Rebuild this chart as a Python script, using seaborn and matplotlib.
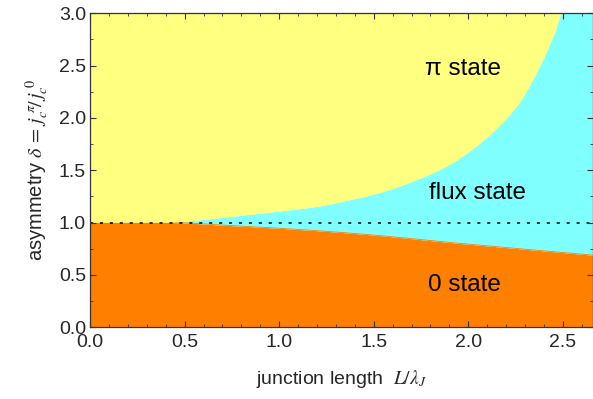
import numpy as np
import matplotlib
matplotlib.use("Agg")
import matplotlib.pyplot as plt
from matplotlib.ticker import MultipleLocator, FormatStrFormatter
import seaborn as sns
import pandas as pd

# boundary data
x_lower = [0.0, 0.42, 0.7, 1.0, 1.2, 1.5, 1.9, 2.3, 2.66]
y_lower = [1.0, 1.0, 0.975, 0.945, 0.922, 0.88, 0.81, 0.745, 0.688]

x_upper = [0.0, 0.39, 0.6, 0.8, 1.0, 1.2, 1.36, 1.536, 1.712, 1.889,
           2.013, 2.119, 2.207, 2.278, 2.348, 2.401, 2.454, 2.498, 2.66]
y_upper = [1.0, 1.0, 1.03, 1.07, 1.11, 1.155, 1.213, 1.29, 1.40, 1.545,
           1.691, 1.85, 2.009, 2.169, 2.391, 2.582, 2.806, 3.0, 3.0]

state_labels = ["π state", "flux state", "0 state"]
label_x = [1.97, 2.05, 1.98]
label_y = [2.47, 1.28, 0.40]


def pchip(x, y, xs):
    """Monotone cubic (Fritsch-Carlson) drawing of the read boundary points."""
    x = np.asarray(x, float)
    y = np.asarray(y, float)
    h = np.diff(x)
    d = np.diff(y) / h
    m = np.zeros_like(y)
    for k in range(1, len(x) - 1):
        if d[k - 1] * d[k] <= 0:
            m[k] = 0.0
        else:
            w1 = 2 * h[k] + h[k - 1]
            w2 = h[k] + 2 * h[k - 1]
            m[k] = (w1 + w2) / (w1 / d[k - 1] + w2 / d[k])
    m[0] = d[0]
    m[-1] = d[-1]
    idx = np.clip(np.searchsorted(x, xs) - 1, 0, len(x) - 2)
    t = (xs - x[idx]) / h[idx]
    h00 = 2 * t**3 - 3 * t**2 + 1
    h10 = t**3 - 2 * t**2 + t
    h01 = -2 * t**3 + 3 * t**2
    h11 = t**3 - t**2
    return (h00 * y[idx] + h10 * h[idx] * m[idx]
            + h01 * y[idx + 1] + h11 * h[idx] * m[idx + 1])


sns.set_theme(style="ticks")
plt.rcParams['font.family'] = ['Liberation Sans', 'DejaVu Sans']
plt.rcParams['mathtext.fontset'] = 'stix'

fig = plt.figure(figsize=(5.93, 3.99), dpi=100)
ax = fig.add_axes([0.152, 0.18, 0.848, 0.787])

xs = np.linspace(0, 2.66, 1000)
lo = pchip(x_lower, y_lower, xs)
up = np.minimum(pchip(x_upper, y_upper, xs), 3.0)
up = np.maximum(up, lo)

ax.fill_between(xs, 0, lo, color="#FF8000", lw=0)
ax.fill_between(xs, lo, up, color="#80FFFF", lw=0)
ax.fill_between(xs, up, 3.0, color="#FFFF80", lw=0)

df_lo = pd.DataFrame({"x": xs, "y": lo})
df_up = pd.DataFrame({"x": xs, "y": up})
sns.lineplot(data=df_lo, x="x", y="y", ax=ax, color="#FF8000", lw=0.6)
sns.lineplot(data=df_up, x="x", y="y", ax=ax, color="#FFFF80", lw=0.6)

ax.axhline(1.0, color="black", ls=(0, (2, 4.5)), lw=1.1)

for t, lx, ly in zip(state_labels, label_x, label_y):
    ax.text(lx, ly, t, ha="center", va="center", fontsize=17.5, color="black")

ax.set_axisbelow(False)
ax.set_xlim(0, 2.66)
ax.set_ylim(0, 3.0)
ax.xaxis.set_major_locator(MultipleLocator(0.5))
ax.xaxis.set_minor_locator(MultipleLocator(0.1))
ax.yaxis.set_major_locator(MultipleLocator(0.5))
ax.yaxis.set_minor_locator(MultipleLocator(0.25))
ax.xaxis.set_major_formatter(FormatStrFormatter('%.1f'))
ax.yaxis.set_major_formatter(FormatStrFormatter('%.1f'))
ax.tick_params(which="both", direction="in", top=True, right=True,
               labelsize=14, color="#333333")
ax.tick_params(axis="x", pad=5)
ax.tick_params(axis="y", pad=3)
ax.tick_params(which="major", length=4, width=0.8)
ax.tick_params(which="minor", length=2.5, width=0.6)
for s in ax.spines.values():
    s.set_linewidth(0.9)
    s.set_color("#333333")

ax.set_xlabel(r"junction length  $L/\lambda_J$", fontsize=14, labelpad=12)
ax.set_ylabel(r"asymmetry $\delta\,=\,j_c^{\ \pi}\!/\,j_c^{\ 0}$", fontsize=14.5, labelpad=6)

fig.savefig("out.png", dpi=100)
